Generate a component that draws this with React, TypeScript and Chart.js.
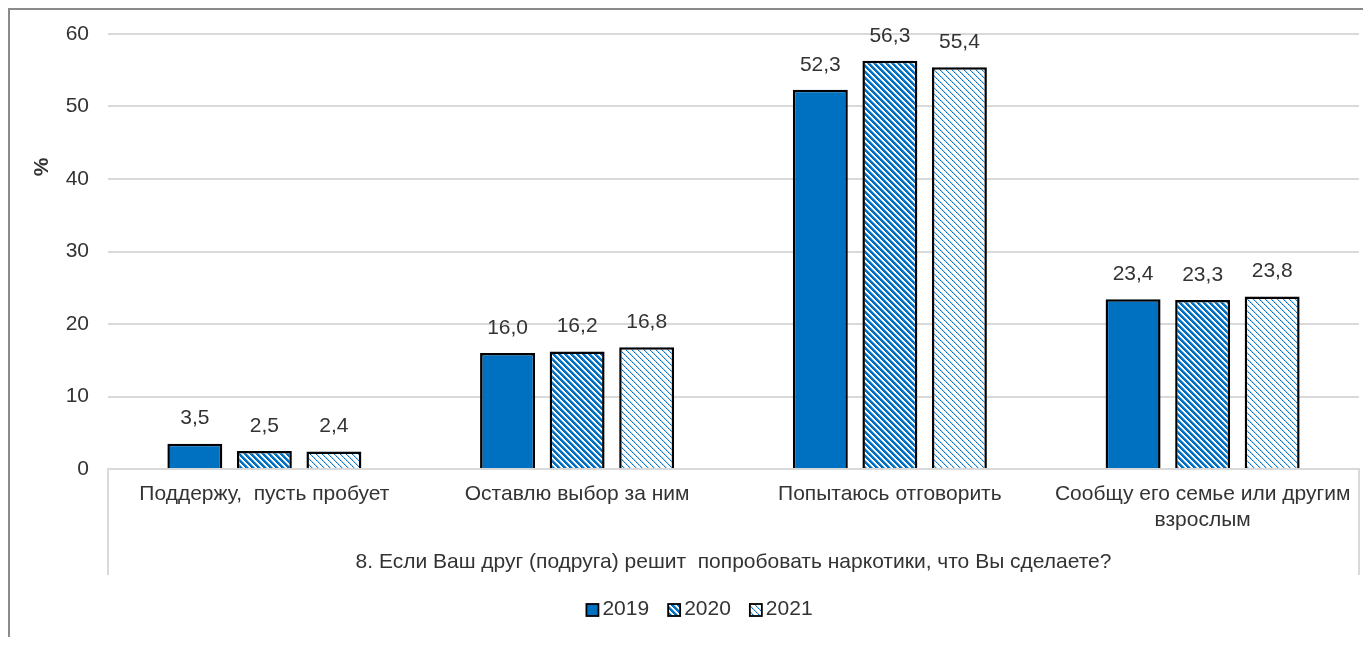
import React, { useEffect, useRef } from 'react';
import { Chart, registerables } from 'chart.js';

Chart.register(...registerables);

const categories: (string | string[])[] = [
  'Поддержу,  пусть пробует',
  'Оставлю выбор за ним',
  'Попытаюсь отговорить',
  ['Сообщу его семье или другим', 'взрослым'],
];
const seriesNames = ['2019', '2020', '2021'];
const values2019 = [3.5, 16.0, 52.3, 23.4];
const values2020 = [2.5, 16.2, 56.3, 23.3];
const values2021 = [2.4, 16.8, 55.4, 23.8];
const yTicks = [0, 10, 20, 30, 40, 50, 60];
const groupTitle = '8. Если Ваш друг (подруга) решит  попробовать наркотики, что Вы сделаете?';
const yTitle = '%';

const FONT = '"Liberation Sans", Arial, sans-serif';
const FS = 21;
const TEXT = '#333333';
const BLUE = '#0070C0';
const GRID = '#d9d9d9';

function makeTile(kind: 'dense' | 'light'): HTMLCanvasElement {
  const n = 6;
  const c = document.createElement('canvas');
  c.width = n;
  c.height = n;
  const g = c.getContext('2d')!;
  g.fillStyle = '#ffffff';
  g.fillRect(0, 0, n, n);
  for (let y = 0; y < n; y++) {
    for (let x = 0; x < n; x++) {
      const d = (((x - y) % n) + n) % n;
      let col: string | null = null;
      if (kind === 'dense') {
        if (d < 3) col = BLUE;
        else if (d === 3) col = '#7fb3df';
      } else {
        if (d === 0) col = y % 2 === 0 ? BLUE : '#3f8fd2';
        else if (d === 1) col = '#b5d4ee';
      }
      if (col) {
        g.fillStyle = col;
        g.fillRect(x, y, 1, 1);
      }
    }
  }
  return c;
}

const fmt = (v: number) => v.toFixed(1).replace('.', ',');

export default function App() {
  const ref = useRef<HTMLCanvasElement>(null);

  useEffect(() => {
    const canvas = ref.current!;
    const ctx = canvas.getContext('2d')!;
    const pDense = ctx.createPattern(makeTile('dense'), 'repeat')!;
    const pLight = ctx.createPattern(makeTile('light'), 'repeat')!;

    const labelsPlugin = {
      id: 'valueLabels',
      afterDatasetsDraw(chart: any) {
        const c = chart.ctx;
        c.save();
        c.font = `${FS}px ${FONT}`;
        c.fillStyle = TEXT;
        c.textAlign = 'center';
        c.textBaseline = 'middle';
        chart.data.datasets.forEach((ds: any, i: number) => {
          const meta = chart.getDatasetMeta(i);
          meta.data.forEach((el: any, j: number) => {
            c.fillText(fmt(ds.data[j]), el.x, el.y - 25);
          });
        });
        c.restore();
      },
    };

    const decoPlugin = {
      id: 'deco',
      afterDraw(chart: any) {
        const c = chart.ctx;
        const a = chart.chartArea;
        c.save();
        // category box side lines
        c.strokeStyle = GRID;
        c.lineWidth = 2;
        c.beginPath();
        c.moveTo(a.left, a.bottom);
        c.lineTo(a.left, a.bottom + 106);
        c.moveTo(a.right, a.bottom);
        c.lineTo(a.right, a.bottom + 106);
        c.stroke();
        // y title
        c.save();
        c.translate(32, 157);
        c.rotate(-Math.PI / 2);
        c.font = `bold ${FS}px ${FONT}`;
        c.fillStyle = TEXT;
        c.textAlign = 'center';
        c.textBaseline = 'middle';
        c.fillText(yTitle, 0, 0);
        c.restore();
        // legend
        c.font = `${FS}px ${FONT}`;
        const box = 12;
        const gapBT = 3;
        const gapItem = 18;
        const widths = chart.data.datasets.map((d: any) => c.measureText(d.label).width);
        const total =
          widths.reduce((s: number, w: number) => s + w, 0) +
          widths.length * (box + 2 + gapBT) +
          (widths.length - 1) * gapItem;
        let x = 689 - total / 2;
        const cy = 599;
        chart.data.datasets.forEach((d: any, i: number) => {
          c.fillStyle = d.backgroundColor;
          c.fillRect(x + 1, cy - box / 2 + 1, box, box);
          c.strokeStyle = '#000';
          c.lineWidth = 1.8;
          c.strokeRect(x + 1, cy - box / 2 + 1, box, box);
          x += box + 2 + gapBT;
          c.fillStyle = TEXT;
          c.textAlign = 'left';
          c.textBaseline = 'middle';
          c.fillText(d.label, x, cy);
          x += widths[i] + gapItem;
        });
        c.restore();
      },
    };

    const common = { borderColor: '#000000', borderWidth: 2.5 };

    const chart = new Chart(canvas, {
      type: 'bar',
      data: {
        labels: categories,
        datasets: [
          { label: seriesNames[0], data: values2019, backgroundColor: BLUE, ...common },
          { label: seriesNames[1], data: values2020, backgroundColor: pDense as any, ...common },
          { label: seriesNames[2], data: values2021, backgroundColor: pLight as any, ...common },
        ],
      },
      options: {
        responsive: false,
        animation: false,
        events: [],
        layout: { padding: { top: 24, right: 4, bottom: 62, left: 0 } },
        datasets: { bar: { categoryPercentage: 0.667, barPercentage: 0.79 } } as any,
        plugins: { legend: { display: false }, tooltip: { enabled: false } },
        scales: {
          x: {
            grid: { display: false, drawTicks: false },
            border: { color: GRID, width: 2 },
            ticks: {
              padding: 13,
              color: TEXT,
              font: { family: FONT, size: FS, lineHeight: 1.2 },
              maxRotation: 0,
              autoSkip: false,
            },
            title: {
              display: true,
              text: groupTitle,
              color: TEXT,
              font: { family: FONT, size: FS, lineHeight: 1.2 },
              padding: { top: 0, bottom: 0 },
            },
            afterFit: (s: any) => {
              s.height = 106;
              s.paddingLeft = 0;
              s.paddingRight = 0;
            },
          },
          y: {
            min: 0,
            max: 60,
            afterBuildTicks: (s: any) => {
              s.ticks = yTicks.map((v) => ({ value: v }));
            },
            ticks: {
              padding: 19,
              color: TEXT,
              font: { family: FONT, size: FS },
              callback: (v: any) => String(v),
            },
            grid: { color: GRID, lineWidth: 2, drawTicks: false },
            border: { display: false },
            afterFit: (s: any) => {
              s.width = 98;
              s.paddingTop = 0;
              s.paddingBottom = 0;
            },
          },
        },
      },
      plugins: [labelsPlugin, decoPlugin],
    });
    return () => chart.destroy();
  }, []);

  return (
    <div
      style={{
        width: 1353,
        height: 627,
        borderLeft: '2px solid #8a8a8a',
        borderTop: '2px solid #8a8a8a',
        background: '#fff',
      }}
    >
      <canvas ref={ref} width={1353} height={627} style={{ display: 'block' }} />
    </div>
  );
}
